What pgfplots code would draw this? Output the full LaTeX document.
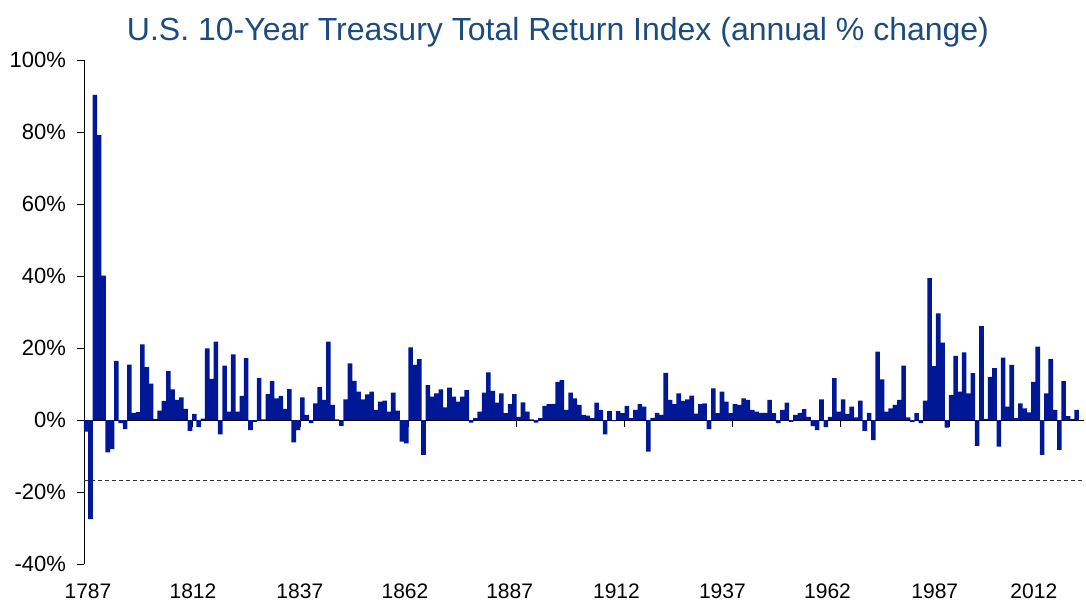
\documentclass[border=0pt]{standalone}
\usepackage{pgfplots}
\pgfplotsset{compat=1.18}
\usepackage{pgfplotstable}
\usepackage{fontspec}
\setmainfont{Liberation Sans}
\definecolor{barblue}{RGB}{0,24,150}
\definecolor{titleblue}{RGB}{28,75,125}

% annual % change, one bar per year (index 1 = first year)
\pgfplotstableread{
i r
1 -3.2
2 -27.5
3 90.3
4 79.1
5 40.1
6 -9.0
7 -8.1
8 16.4
9 -0.9
10 -2.5
11 15.4
12 2.0
13 2.2
14 21.0
15 14.7
16 10.1
17 0.3
18 2.6
19 5.3
20 13.6
21 8.5
22 5.6
23 6.3
24 3.1
25 -3.0
26 1.7
27 -2.0
28 0.4
29 19.9
30 11.4
31 21.8
32 -4.0
33 15.1
34 2.3
35 18.2
36 2.3
37 6.7
38 17.2
39 -2.8
40 -0.5
41 11.6
42 0.2
43 7.2
44 10.9
45 6.0
46 6.7
47 3.1
48 8.6
49 -6.2
50 -2.8
51 6.3
52 1.4
53 -0.9
54 4.6
55 9.1
56 5.6
57 21.8
58 4.2
59 0.2
60 -1.6
61 5.7
62 15.7
63 10.9
64 7.9
65 5.7
66 7.1
67 7.9
68 2.8
69 5.1
70 5.4
71 2.3
72 7.6
73 2.6
74 -6.0
75 -6.5
76 20.2
77 15.3
78 16.9
79 -9.7
80 9.7
81 6.5
82 7.4
83 8.5
84 3.5
85 9.0
86 6.5
87 5.1
88 6.5
89 8.3
90 -0.7
91 0.5
92 2.3
93 7.6
94 13.2
95 8.1
96 4.8
97 7.4
98 1.9
99 4.4
100 7.2
101 0.9
102 4.9
103 2.3
104 0.2
105 -0.7
106 0.5
107 3.9
108 4.4
109 4.5
110 10.6
111 11.1
112 2.8
113 7.6
114 6.0
115 4.2
116 1.4
117 1.2
118 0.5
119 4.8
120 2.8
121 -4.0
122 2.5
123 -0.3
124 2.5
125 1.9
126 3.9
127 0.5
128 2.8
129 4.4
130 3.7
131 -8.8
132 0.6
133 2.0
134 1.4
135 13.1
136 5.6
137 4.4
138 7.4
139 5.3
140 5.7
141 6.8
142 1.8
143 4.4
144 4.6
145 -2.5
146 8.8
147 1.9
148 7.9
149 5.1
150 1.9
151 4.4
152 4.2
153 6.0
154 5.6
155 2.8
156 2.3
157 2.0
158 2.0
159 5.6
160 1.9
161 -0.9
162 2.8
163 4.8
164 -0.5
165 1.4
166 2.0
167 3.0
168 0.9
169 -1.7
170 -2.8
171 5.7
172 -2.0
173 0.9
174 11.6
175 2.3
176 5.7
177 1.7
178 3.7
179 0.7
180 5.4
181 -3.0
182 2.0
183 -5.6
184 19.0
185 11.3
186 2.3
187 3.2
188 4.2
189 5.6
190 15.1
191 0.7
192 -0.6
193 1.9
194 -0.9
195 5.4
196 39.4
197 15.0
198 29.6
199 21.5
200 -2.1
201 6.9
202 17.8
203 7.9
204 18.8
205 7.4
206 13.0
207 -7.2
208 26.1
209 0.3
210 12.0
211 14.4
212 -7.4
213 17.3
214 3.7
215 15.3
216 0.5
217 4.6
218 3.2
219 2.1
220 10.6
221 20.4
222 -9.7
223 7.4
224 16.9
225 2.8
226 -8.3
227 10.8
228 1.1
229 0.3
230 2.8
}\ret

\begin{document}
\begin{tikzpicture}
\begin{axis}[
    name=ax,
    scale only axis,
    width=500pt, height=252pt,
    xmin=0.5, xmax=231.7,
    ymin=-40, ymax=100,
    axis x line=middle,
    axis y line=left,
    axis line style={-, black, line width=0.5pt},
    tick align=outside,
    major tick length=3.5pt,
    tick style={black, line width=0.5pt},
    ytick={-40,-20,...,100},
    yticklabels={-40\%,-20\%,0\%,20\%,40\%,60\%,80\%,100\%},
    yticklabel style={font=\fontsize{11}{13}\selectfont, xshift=-2pt},
    xtick={25.5,50.5,...,225.5},
    xticklabel=\empty,
    extra x ticks={1.42,25.7,50.4,74.7,98.9,123.6,148.1,172.4,197.2,220.1},
    extra x tick labels={1787,1812,1837,1862,1887,1912,1937,1962,1987,2012},
    extra x tick style={
        tick style={draw=none},
        tick label style={font=\fontsize{10.5}{12}\selectfont, yshift=-75pt}
    },
    title={U.S. 10-Year Treasury Total Return Index (annual \% change)},
    title style={font=\fontsize{16}{19}\selectfont, text=titleblue,
        at={(0.474,1)}, anchor=center, yshift=8pt},
    clip=false,
]
\addplot[black!80, dash pattern=on 2pt off 1.5pt, line width=0.4pt]
    coordinates {(0.5,-16.67) (231.7,-16.67)};
\addplot[ybar, bar width=1.06, bar shift=0pt, fill=barblue, draw=none]
    table[x=i, y=r] {\ret};
\end{axis}
\pgfresetboundingbox
\path[use as bounding box] ([shift={(-42pt,-18.5pt)}]ax.south west)
    rectangle ([shift={(501pt,282pt)}]ax.south west);
\end{tikzpicture}
\end{document}
